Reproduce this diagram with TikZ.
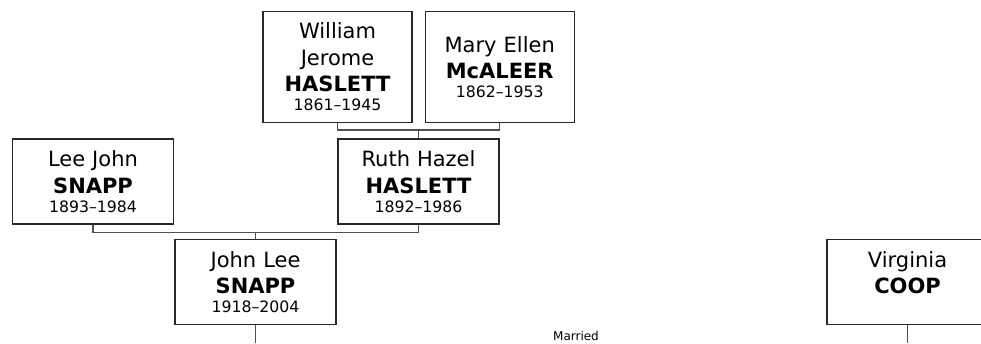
\documentclass[tikz,border=0pt]{standalone}
\usepackage{fontspec}
\setmainfont{DejaVu Sans}
\usetikzlibrary{positioning}
\definecolor{BoxLine}{RGB}{40,40,40}
\definecolor{Link}{RGB}{80,80,80}
\newcommand\namefont{\fontsize{21}{26.5}\selectfont}
\newcommand\yearfont{\fontsize{15.7}{19}\selectfont}
\tikzset{
  person/.style={draw=BoxLine,line width=1.2pt,fill=white,align=center,inner sep=0pt,text width=161pt,minimum height=85pt,font=\namefont},
  elder/.style={person,text width=149pt,minimum height=111pt},
  link/.style={draw=Link,line width=1.4pt},
  note/.style={font=\fontsize{12}{14}\selectfont,inner sep=0pt}
}
\begin{document}
\begin{tikzpicture}[x=1pt,y=-1pt]
\useasboundingbox (0,0) rectangle (981,343);
\coordinate (base) at (0,343);
% grandparents
\node[elder] (will) at (337.5,67) {William\\Jerome\\\textbf{HASLETT}\\[-7.5pt]{\yearfont 1861--1945}};
\node[elder,right=12pt of will] (mary) {Mary Ellen\\\textbf{McALEER}\\[-7.5pt]{\yearfont 1862--1953}};
% parents
\node[person] (lee) at (93,181.5) {Lee John\\\textbf{SNAPP}\\[-7.5pt]{\yearfont 1893--1984}};
\node[person] (ruth) at (418.5,181.5) {Ruth Hazel\\\textbf{HASLETT}\\[-7.5pt]{\yearfont 1892--1986}};
% couple
\node[person] (john) at (255.5,282) {John Lee\\\textbf{SNAPP}\\[-7.5pt]{\yearfont 1918--2004}};
\node[person] (virginia) at (907.5,282) {Virginia\\\textbf{COOP}\\[-7.5pt]\mbox{}};
\node[note] (married) at (576,336) {Married};
\draw[link] (will.south) -- ++(0,7) coordinate (wm) -| (mary.south); \draw[link] (ruth.north) -- (ruth.north |- wm);
\draw[link] (lee.south) -- ++(0,8) coordinate (lr) -| (ruth.south); \draw[link] (john.north) -- (john.north |- lr);
\draw[link] (john.south) -- (john.south |- base); \draw[link] (virginia.south) -- (virginia.south |- base);
\end{tikzpicture}
\end{document}
